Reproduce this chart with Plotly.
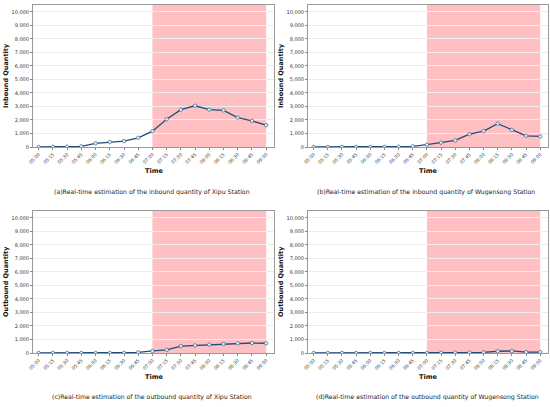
import plotly.graph_objects as go
from plotly.subplots import make_subplots

# time slots
times = ['05:00', '05:15', '05:30', '05:45', '06:00', '06:15', '06:30', '06:45', '07:00',
         '07:15', '07:30', '07:45', '08:00', '08:15', '08:30', '08:45', '09:00']

# values
xipu_in = [0, 10, 20, 50, 270, 370, 440, 680, 1170, 2050, 2760, 3050, 2760, 2710, 2170, 1930, 1610]
wugensong_in = [0, 0, 0, 0, 0, 10, 20, 50, 170, 320, 490, 950, 1170, 1730, 1270, 830, 780]
xipu_out = [0, 0, 0, 0, 0, 0, 10, 50, 150, 230, 510, 560, 615, 670, 720, 740, 720]
wugensong_out = [0, 0, 0, 0, 0, 0, 0, 0, 0, 10, 20, 30, 50, 130, 150, 60, 70]

y_ticks = list(range(0, 10001, 1000))
peak_start, peak_end = '07:00', '09:00'

captions = ['(a)Real-time estimation of the inbound quantity of Xipu Station',
            '(b)Real-time estimation of the inbound quantity of Wugensong Station',
            '(c)Real-time estimation of the outbound quantity of Xipu Station',
            '(d)Real-time estimation of the outbound quantity of Wugensong Station']
y_titles = ['Inbound Quantity', 'Inbound Quantity', 'Outbound Quantity', 'Outbound Quantity']

W, H = 550, 407
FONT = 'DejaVu Sans'

fig = make_subplots(rows=2, cols=2)

series = [xipu_in, wugensong_in, xipu_out, wugensong_out]
# plot boxes in pixels: (left, right, top, bottom)
boxes = [(33, 274, 5, 147), (308, 548, 5, 147),
         (33, 274, 211, 353), (308, 548, 211, 353)]
cap_pos = [(152, 192), (426, 192), (152, 397), (427, 397)]

for i, vals in enumerate(series):
    r, c = i // 2 + 1, i % 2 + 1
    fig.add_trace(go.Scatter(x=times, y=vals, mode='lines+markers',
                             line=dict(color='#234a7c', width=1.3),
                             marker=dict(size=3.5, color='#e4eef2',
                                         line=dict(color='#3a6a8a', width=0.7)),
                             showlegend=False, hoverinfo='skip'), row=r, col=c)
    l, rgt, t, b = boxes[i]
    xa = 'xaxis' if i == 0 else 'xaxis%d' % (i + 1)
    ya = 'yaxis' if i == 0 else 'yaxis%d' % (i + 1)
    fig.layout[xa].update(domain=[l / W, rgt / W], type='category', range=[-0.4, 16.55],
                          tickangle=-45, tickfont=dict(size=4.6, color='#444', family=FONT),
                          ticks='outside', ticklen=2, tickcolor='#888',
                          showline=True, linecolor='#999', linewidth=1, mirror=True,
                          showgrid=False, zeroline=False, automargin=False)
    fig.layout[ya].update(domain=[1 - b / H, 1 - t / H], range=[0, 10500],
                          tickvals=y_ticks, tickformat=',',
                          tickfont=dict(size=5, color='#333', family=FONT),
                          ticks='outside', ticklen=2, tickcolor='#888',
                          showline=True, linecolor='#999', linewidth=1, mirror=True,
                          showgrid=True, gridcolor='#ededed', gridwidth=0.8, zeroline=False,
                          automargin=False)
    xr = 'x' if i == 0 else 'x%d' % (i + 1)
    yr = 'y' if i == 0 else 'y%d' % (i + 1)
    # morning peak shading
    fig.add_shape(type='rect', xref=xr, yref=yr + ' domain', x0=peak_start, x1=peak_end,
                  y0=0, y1=1, fillcolor='#ffc0c4', line_width=0, layer='below')
    # axis titles
    fig.add_annotation(text='<b>Time</b>', x=(l + rgt) / 2 / W, y=1 - (b + 24) / H,
                       xref='paper', yref='paper', showarrow=False,
                       xanchor='center', yanchor='middle',
                       font=dict(size=6.5, color='#111', family=FONT))
    fig.add_annotation(text='<b>%s</b>' % y_titles[i], x=(l - 27) / W, y=1 - (t + b) / 2 / H,
                       xref='paper', yref='paper', showarrow=False, textangle=-90,
                       xanchor='center', yanchor='middle',
                       font=dict(size=6.5, color='#111', family=FONT))
    cx, cy = cap_pos[i]
    fig.add_annotation(text=captions[i], x=cx / W, y=1 - cy / H,
                       xref='paper', yref='paper', showarrow=False,
                       xanchor='center', yanchor='middle',
                       font=dict(size=6.2, color='#222', family=FONT))

fig.update_layout(width=W, height=H, margin=dict(l=0, r=0, t=0, b=0, autoexpand=False),
                  paper_bgcolor='white', plot_bgcolor='white',
                  font=dict(family=FONT))
fig.write_html('out.html', config={'displayModeBar': False},
               post_script="document.body.style.margin='0';")
